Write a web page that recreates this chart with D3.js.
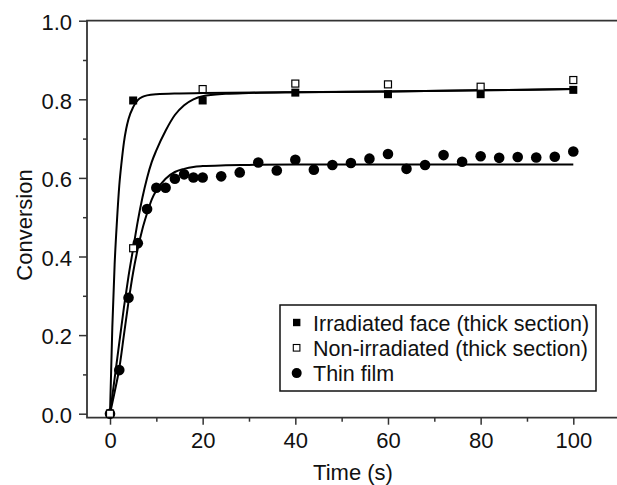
<!DOCTYPE html>
<html>
<head>
<meta charset="utf-8">
<script src="https://cdn.jsdelivr.net/npm/d3@7"></script>
<style>
  body { margin: 0; background: #fff; }
  svg text { font-family: "Liberation Sans", Arial, Helvetica, sans-serif; fill: #111; }
</style>
</head>
<body>
<div id="chart"></div>
<script>
// measured points
const irrT = [0, 5, 20, 40, 60, 80, 100];
const irrV = [0, 0.797, 0.797, 0.817, 0.813, 0.813, 0.824];
const nonT = [0, 5, 20, 40, 60, 80, 100];
const nonV = [0, 0.421, 0.826, 0.840, 0.838, 0.832, 0.849];
const filmT = [0, 2, 4, 6, 8, 10, 12, 14, 16, 18, 20, 24, 28, 32, 36, 40, 44, 48, 52, 56, 60, 64, 68, 72, 76, 80, 84, 88, 92, 96, 100];
const filmV = [0, 0.111, 0.295, 0.434, 0.521, 0.575, 0.575, 0.598, 0.609, 0.601, 0.601, 0.604, 0.614, 0.639, 0.619, 0.646, 0.621, 0.633, 0.638, 0.649, 0.661, 0.623, 0.633, 0.658, 0.641, 0.655, 0.651, 0.653, 0.652, 0.654, 0.667];

// fitted curves
const irrFitT = [0, 0.5, 1, 1.5, 2, 2.5, 3, 3.5, 4, 5, 6, 7, 8, 10, 15, 20, 40, 60, 80, 100];
const irrFitV = [0, 0.22, 0.38, 0.49, 0.58, 0.64, 0.69, 0.725, 0.75, 0.78, 0.798, 0.806, 0.810, 0.813, 0.815, 0.816, 0.818, 0.820, 0.823, 0.826];
const nonFitT = [0, 1, 2, 3, 4, 5, 6, 7, 8, 9, 10, 12, 14, 16, 18, 20, 25, 30, 40, 60, 80, 100];
const nonFitV = [0, 0.09, 0.18, 0.27, 0.35, 0.42, 0.49, 0.55, 0.60, 0.64, 0.67, 0.72, 0.76, 0.785, 0.80, 0.808, 0.814, 0.816, 0.818, 0.820, 0.823, 0.826];
const filmFitT = [0, 1, 2, 3, 4, 5, 6, 7, 8, 9, 10, 12, 14, 16, 18, 20, 25, 30, 40, 60, 80, 100];
const filmFitV = [0, 0.055, 0.115, 0.20, 0.285, 0.36, 0.42, 0.47, 0.51, 0.545, 0.568, 0.598, 0.615, 0.623, 0.628, 0.630, 0.632, 0.633, 0.634, 0.634, 0.634, 0.634];

const xTicks = [0, 20, 40, 60, 80, 100];
const xMinor = [10, 30, 50, 70, 90];
const yTicks = [0, 0.2, 0.4, 0.6, 0.8, 1.0];
const yMinor = [0.1, 0.3, 0.5, 0.7, 0.9];
const legendLabels = ["Irradiated face (thick section)", "Non-irradiated (thick section)", "Thin film"];

const width = 617, height = 485;
const svg = d3.select("#chart").append("svg").attr("width", width).attr("height", height);

const x = d3.scaleLinear().domain([0, 100]).range([110, 573.3]);
const y = d3.scaleLinear().domain([0, 1]).range([413.7, 20.7]);
const xLeft = 87, xAxisY = 417.7;

// axes
const gy = svg.append("g").attr("transform", `translate(${xLeft},0)`)
  .call(d3.axisLeft(y).tickValues(yTicks).tickFormat(d3.format(".1f")).tickSize(8).tickPadding(7));
svg.append("g").attr("transform", `translate(${xLeft},0)`)
  .call(d3.axisLeft(y).tickValues(yMinor).tickFormat("").tickSize(4))
  .call(g => g.select(".domain").remove());
const gx = svg.append("g").attr("transform", `translate(0,${xAxisY})`)
  .call(d3.axisBottom(x).tickValues(xTicks).tickSize(7).tickPadding(8));
svg.append("g").attr("transform", `translate(0,${xAxisY})`)
  .call(d3.axisBottom(x).tickValues(xMinor).tickFormat("").tickSize(4))
  .call(g => g.select(".domain").remove());
gy.select(".domain").remove();
gx.select(".domain").remove();
svg.selectAll(".tick line").attr("stroke", "#333").attr("stroke-width", 1.5);
svg.selectAll(".tick text").attr("font-size", 22).attr("font-family", null).attr("fill", "#111");
gy.selectAll(".tick text").attr("dy", "0.4em");

// spines
svg.append("path")
  .attr("d", `M${width + 5},${y(1)}H${xLeft}V${xAxisY}H${width + 5}`)
  .attr("fill", "none").attr("stroke", "#333").attr("stroke-width", 1.8);

// axis titles
svg.append("text").attr("x", 353).attr("y", 480).attr("text-anchor", "middle")
  .attr("font-size", 22).text("Time (s)");
svg.append("text").attr("transform", "translate(32,225) rotate(-90)").attr("text-anchor", "middle")
  .attr("font-size", 22).text("Conversion");

// fit curves
const line = d3.line().x(d => x(d[0])).y(d => y(d[1])).curve(d3.curveMonotoneX);
[[irrFitT, irrFitV], [nonFitT, nonFitV], [filmFitT, filmFitV]].forEach(([ts, vs]) => {
  svg.append("path").datum(ts.map((t, i) => [t, vs[i]])).attr("d", line)
    .attr("fill", "none").attr("stroke", "#000").attr("stroke-width", 2);
});

// markers
svg.append("g").selectAll("circle").data(filmT.map((t, i) => [t, filmV[i]])).join("circle")
  .attr("cx", d => x(d[0])).attr("cy", d => y(d[1])).attr("r", 5.3).attr("fill", "#000");
svg.append("g").selectAll("rect").data(irrT.map((t, i) => [t, irrV[i]])).join("rect")
  .attr("x", d => x(d[0]) - 4).attr("y", d => y(d[1]) - 4).attr("width", 8).attr("height", 8).attr("fill", "#000");
svg.append("g").selectAll("rect").data(nonT.map((t, i) => [t, nonV[i]])).join("rect")
  .attr("x", d => x(d[0]) - 3.5).attr("y", d => y(d[1]) - 3.5).attr("width", 7).attr("height", 7)
  .attr("fill", "#fff").attr("stroke", "#000").attr("stroke-width", 1.2);

// legend
const lg = svg.append("g");
lg.append("rect").attr("x", 280).attr("y", 305).attr("width", 316).attr("height", 86)
  .attr("fill", "#fff").attr("stroke", "#111").attr("stroke-width", 1.5);
legendLabels.forEach((lab, i) => {
  const cy = 322.5 + i * 25.3;
  if (i === 0) lg.append("rect").attr("x", 293).attr("y", cy - 3.7).attr("width", 7.4).attr("height", 7.4).attr("fill", "#000");
  if (i === 1) lg.append("rect").attr("x", 293.3).attr("y", cy - 3.3).attr("width", 6.6).attr("height", 6.6)
    .attr("fill", "#fff").attr("stroke", "#000").attr("stroke-width", 1.1);
  if (i === 2) lg.append("circle").attr("cx", 296.7).attr("cy", cy).attr("r", 5).attr("fill", "#000");
  lg.append("text").attr("x", 313).attr("y", cy + 8).attr("font-size", 21.5).text(lab);
});
</script>
</body>
</html>
